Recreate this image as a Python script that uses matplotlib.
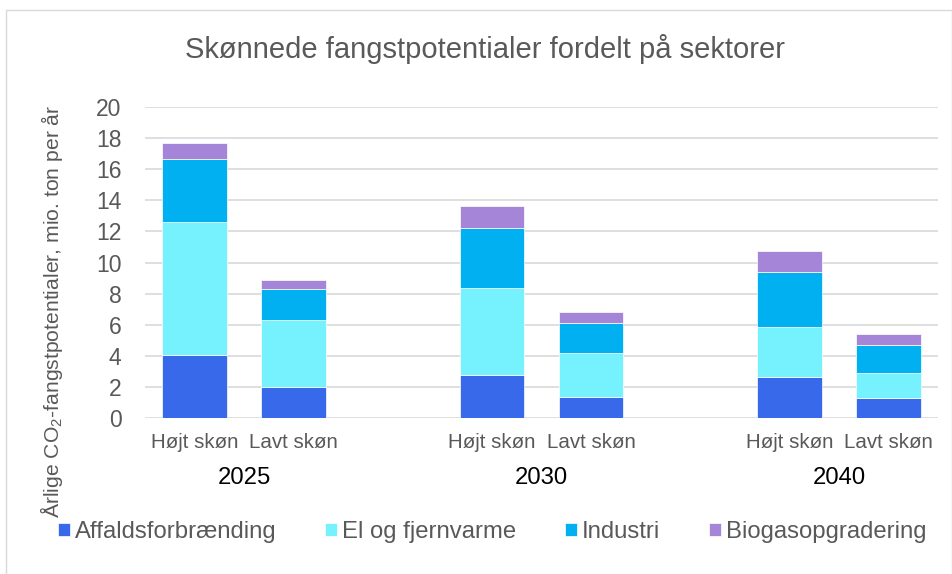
import matplotlib
matplotlib.use("Agg")
import matplotlib.pyplot as plt
import matplotlib.transforms as mtransforms
from matplotlib.patches import Rectangle

plt.rcParams['font.family'] = ['Liberation Sans', 'DejaVu Sans']
plt.rcParams['mathtext.fontset'] = 'custom'
plt.rcParams['mathtext.rm'] = 'Liberation Sans'

# data (mio. ton per year)
years = ['2025', '2030', '2040']
scenarios = ['Højt skøn', 'Lavt skøn']
sectors = ['Affaldsforbrænding', 'El og fjernvarme', 'Industri', 'Biogasopgradering']
affald = [4.05, 2.0, 2.75, 1.35, 2.62, 1.3]
el_fjernvarme = [8.55, 4.3, 5.6, 2.8, 3.2, 1.6]
industri = [4.05, 2.0, 3.9, 1.95, 3.6, 1.8]
biogas = [1.07, 0.55, 1.4, 0.7, 1.35, 0.67]
colors = ['#3769EA', '#76F1FE', '#00B0F0', '#A585D8']

grey = '#595959'

fig = plt.figure(figsize=(9.53, 5.74), dpi=100)
ax = fig.add_axes([145/953, 1-417.7/574, 793/953, 310.4/574])

xpos = [0, 1, 3, 4, 6, 7]
bottom = [0.0] * 6
for vals, col, name in zip([affald, el_fjernvarme, industri, biogas], colors, sectors):
    ax.bar(xpos, vals, width=0.65, bottom=bottom, color=col, label=name,
           edgecolor='white', linewidth=0.5, zorder=3)
    bottom = [b + v for b, v in zip(bottom, vals)]

ax.set_xlim(-0.5, 7.5)
ax.set_ylim(0, 20)
ax.set_yticks(range(0, 21, 2))
ax.yaxis.grid(True, color='#d9d9d9', linewidth=1.2, zorder=0)
ax.set_axisbelow(True)
for s in ax.spines.values():
    s.set_visible(False)
ax.set_xticks(xpos)
ax.set_xticklabels(scenarios * 3)
ax.tick_params(axis='y', length=0, pad=17, labelsize=16.5, labelcolor=grey)
ax.tick_params(axis='x', length=0, pad=11, labelsize=14.8, labelcolor=grey)

# year labels under each group
trans = mtransforms.blended_transform_factory(ax.transData, fig.transFigure)
for i, yr in enumerate(years):
    ax.text(xpos[2*i] + 0.5, 1 - 478/574, yr, transform=trans, ha='center',
            va='center', fontsize=17.2, color='black')

fig.text(485/953, 1 - 58/574, 'Skønnede fangstpotentialer fordelt på sektorer',
         ha='center', va='baseline', fontsize=21, color=grey)
fig.text(52/953, 1 - 311/574, 'Årlige CO$_\\mathrm{2}$-fangstpotentialer, mio. ton per år',
         rotation=90, ha='center', va='center', fontsize=15.2, color=grey)

fig.legend(loc='center left', bbox_to_anchor=(58/953, 1 - 532/574), ncol=4,
           frameon=False, fontsize=17.2, labelcolor=grey, handlelength=0.5,
           handleheight=0.5, handletextpad=0.2, columnspacing=2.05,
           borderpad=0, borderaxespad=0)

fig.patches.append(Rectangle((6/953, -0.1), 946/953, 1.1 - 10/574, transform=fig.transFigure,
                             fill=False, edgecolor='#d9d9d9', linewidth=1))

fig.savefig('out.png', dpi=100)
